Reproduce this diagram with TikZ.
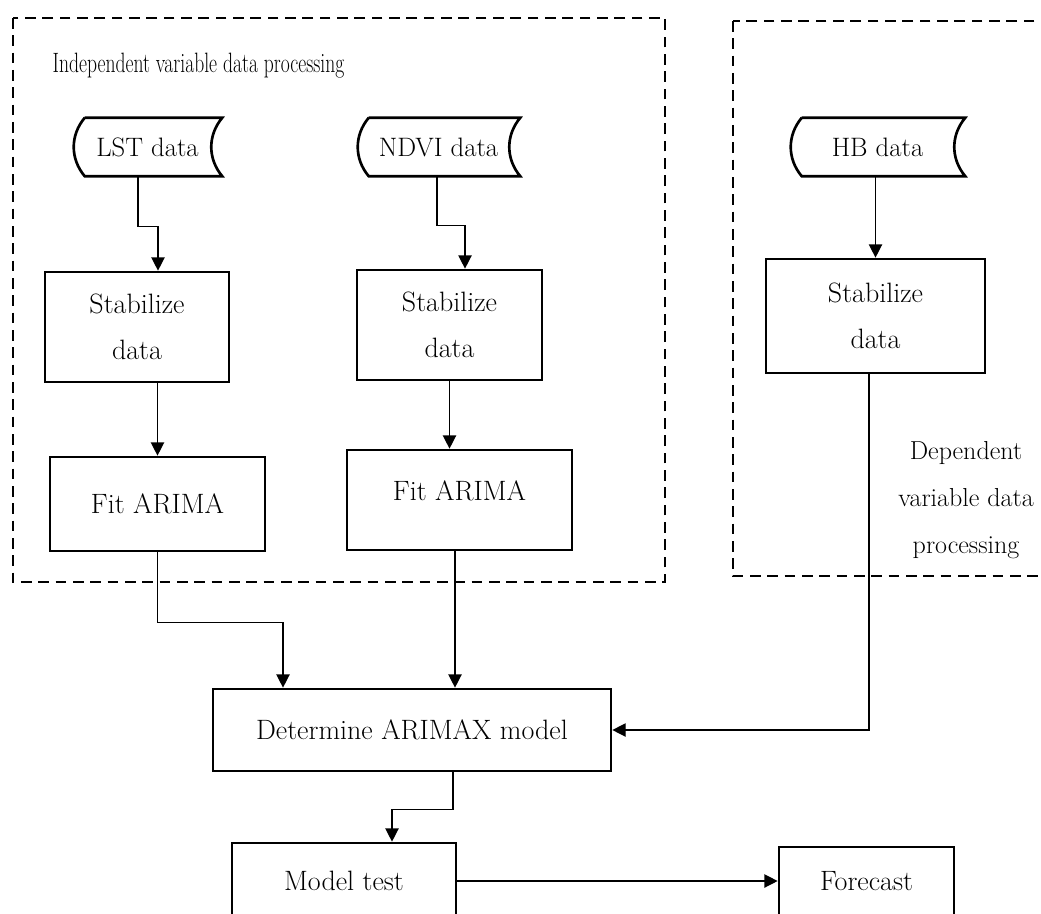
\documentclass[tikz,border=0pt]{standalone}
\usetikzlibrary{arrows.meta, calc}

% input data symbol: curved left and right sides
\newcommand\datashape[1]{%
  \draw[shp] ($(#1.north west)+(12,0)$) -- (#1.north east)
    to[bend right=40] (#1.south east) -- ($(#1.south west)+(12,0)$)
    to[bend left=40] ($(#1.north west)+(12,0)$);}

\begin{document}
\begin{tikzpicture}[x=0.75pt, y=-0.75pt,
  box/.style={draw, line width=2pt, inner sep=0pt, align=center,
    font=\fontsize{21}{34.5}\selectfont},
  data/.style={inner sep=0pt, minimum height=43.5pt, font=\fontsize{20}{24}\selectfont},
  shp/.style={line width=2pt},
  link/.style={line width=1pt},
  arr/.style={link, -{Triangle[length=10pt, width=10pt]}},
  group/.style={line width=2pt, dash pattern=on 8pt off 5pt}]
  \useasboundingbox (0,0) rectangle (1041,913);
  \clip (0,0) rectangle (1041,913);

  % dashed groups
  \draw[group] (13,18) rectangle (665,582);
  \draw[group] (733,21) rectangle (1100,576);
  \node[anchor=west, font=\fontsize{21}{25}\selectfont] (indep) at (48,66)
    {\scalebox{0.7}[1]{Independent variable data processing}};
  \node[align=center, font=\fontsize{19.5}{35}\selectfont] (dep) at (966,500)
    {Dependent\\variable data\\processing};

  % data inputs
  \node[data, minimum width=111.75pt] (lst) at (147.5,147) {LST data};
  \node[data, minimum width=122.25pt] (ndvi) at (438.5,147) {NDVI data};
  \node[data, minimum width=131.25pt] (hb) at (877.5,147) {HB data};
  \datashape{lst}
  \datashape{ndvi}
  \datashape{hb}

  % processing boxes
  \node[box, minimum width=138pt, minimum height=82.5pt] (stab1) at (137,327) {Stabilize\\data};
  \node[box, minimum width=138.75pt, minimum height=82.5pt] (stab2) at (449.5,325) {Stabilize\\data};
  \node[box, minimum width=164.25pt, minimum height=85.5pt] (stab3) at (875.5,316) {Stabilize\\data};
  \node[box, minimum width=161.25pt, minimum height=70.5pt] (fit1) at (157.5,504) {Fit ARIMA};
  \node[box, minimum width=168.75pt, minimum height=75pt] (fit2) at (459.5,500) {\raisebox{14pt}{Fit ARIMA}};
  \node[box, minimum width=298.5pt, minimum height=61.5pt] (arimax) at (412,730) {Determine ARIMAX model};
  \node[box, minimum width=168pt, minimum height=57pt] (test) at (344,881) {Model test};
  \node[box, minimum width=131.25pt, minimum height=51pt] (forecast) at (866.5,881) {Forecast};

  % connectors
  \draw[arr] ($(lst.south)+(-9.5,0)$) -- ++(0,50) -| ($(stab1.north)+(21,0)$);
  \draw[arr] ($(ndvi.south)+(-1.5,0)$) -- ++(0,49) -| ($(stab2.north)+(15.5,0)$);
  \draw[arr] (hb.south -| stab3.north) -- (stab3.north);
  \draw[arr] (stab1.south -| fit1.north) -- (fit1.north);
  \draw[arr] (stab2.south) -- (stab2.south |- fit2.north);
  \draw[arr] (fit1.south) -- ++(0,70) -| ($(arimax.north)+(-129,0)$);
  \draw[arr] ($(fit2.south)+(-4.5,0)$) -- ($(arimax.north)+(43,0)$);
  \draw[arr] ($(stab3.south)+(-6.5,0)$) |- (arimax.east);
  \draw[arr] ($(arimax.south)+(41,0)$) -- ++(0,37) -| ($(test.north)+(48,0)$);
  \draw[arr] (test.east) -- (forecast.west);
\end{tikzpicture}
\end{document}
